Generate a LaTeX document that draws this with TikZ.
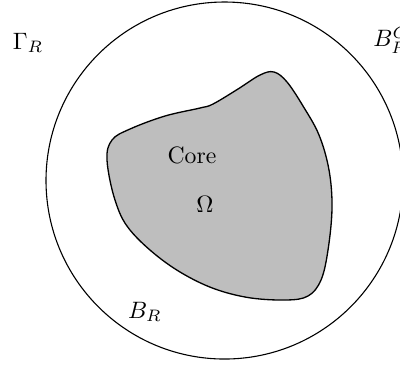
\documentclass[tikz,border=0pt]{standalone}
\usepackage{amsfonts,amssymb,amsmath}
\usepackage{xcolor}
\usepackage{tikz}
\definecolor{coregray}{RGB}{190,190,190}

\begin{document}
\begin{tikzpicture}[x=0.016cm,y=-0.016cm,every node/.style={scale=1.08}]
\useasboundingbox (0,0) rectangle (400,365);
\draw[line width=0.5pt](224.5,180.5)circle(178.5);
\draw[fill=coregray,line width=0.6pt]plot[smooth cycle,tension=0.6]coordinates{
(213,104)(238,89)(260,75)(274,72)(287,82)(303,106)(319,135)(329,170)(332,208)
(328,250)(321,280)(308,296)(285,300)(245,297)(205,285)(165,262)(130,230)
(115,200)(107,160)(112,140)(130,129)(165,116)(200,108)};
\node(core) at (192,155){Core};
\node(omega) at (205,204){$\Omega$};
\node(br) at (145,312){$B_R$};
\node(gammar) at (28,43){$\Gamma_R$};
\node[anchor=west](brc) at (365,40){$B_R^C$};
\end{tikzpicture}
\end{document}
